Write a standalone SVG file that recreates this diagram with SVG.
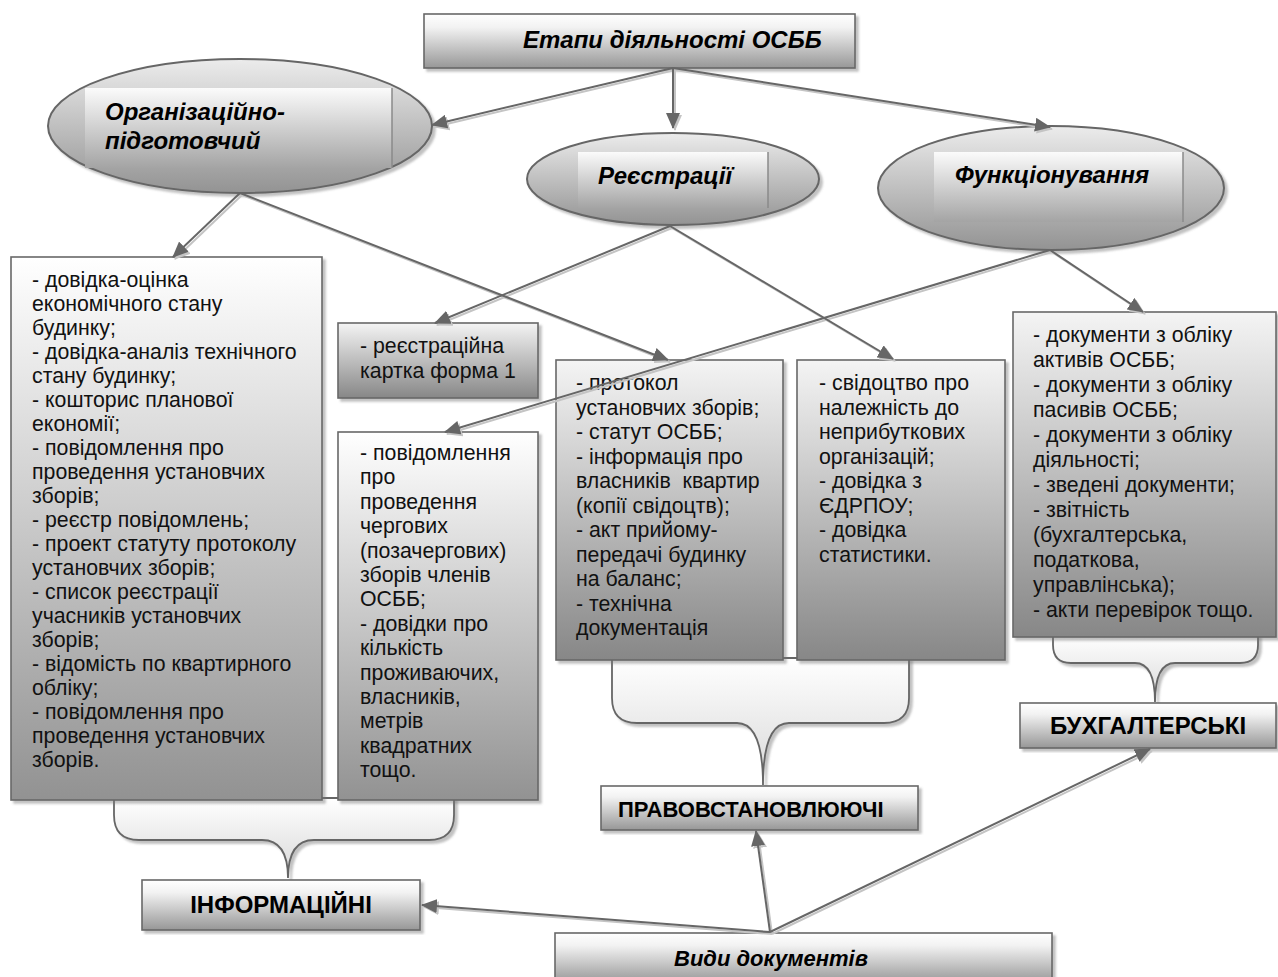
<svg xmlns="http://www.w3.org/2000/svg" width="1278" height="977" viewBox="0 0 1278 977">
<defs>
<linearGradient id="gBox" x1="0" y1="0" x2="0" y2="1"><stop offset="0" stop-color="#ffffff"/><stop offset="1" stop-color="#929292"/></linearGradient>
<linearGradient id="gBoxDark" x1="0" y1="0" x2="0" y2="1"><stop offset="0" stop-color="#f4f4f4"/><stop offset="1" stop-color="#878787"/></linearGradient>
<linearGradient id="gHead" x1="0" y1="0" x2="0" y2="1"><stop offset="0" stop-color="#ffffff"/><stop offset="0.25" stop-color="#f2f2f2"/><stop offset="1" stop-color="#979797"/></linearGradient>
<linearGradient id="gEll" x1="0" y1="0" x2="0" y2="1"><stop offset="0" stop-color="#ececec"/><stop offset="1" stop-color="#939393"/></linearGradient>
<linearGradient id="gIn" x1="0" y1="0" x2="0" y2="1"><stop offset="0" stop-color="#fbfbfb"/><stop offset="1" stop-color="#a4a4a4"/></linearGradient>
<linearGradient id="gBrace" x1="0" y1="0" x2="0" y2="1"><stop offset="0" stop-color="#ffffff"/><stop offset="1" stop-color="#d8d8d8"/></linearGradient>
<filter id="sh" x="-5%" y="-5%" width="115%" height="115%"><feDropShadow dx="3" dy="3" stdDeviation="1" flood-color="#777" flood-opacity="0.45"/></filter>
<marker id="ah" markerUnits="userSpaceOnUse" markerWidth="16" markerHeight="14" refX="15" refY="7" orient="auto"><path d="M0,0 L16,7 L0,14 z" fill="#666"/></marker>
<marker id="ahs" markerUnits="userSpaceOnUse" markerWidth="16" markerHeight="14" refX="15" refY="7" orient="auto"><path d="M0,0 L16,7 L0,14 z" fill="#c4c4c4"/></marker>
<style>
.box{stroke:#686868;stroke-width:1.6;filter:url(#sh)}
.ell{fill:url(#gEll);stroke:#666;stroke-width:2;filter:url(#sh)}
.inr{fill:url(#gIn);stroke:none}
.brace{fill:url(#gBrace);stroke:#666;stroke-width:1.8;filter:url(#sh)}
.t{font-family:"Liberation Sans",Arial,sans-serif;font-size:21.3px;fill:#111}
.h{font-family:"Liberation Sans",Arial,sans-serif;font-size:24px;font-weight:bold;fill:#000}
.hi{font-family:"Liberation Sans",Arial,sans-serif;font-size:24px;font-weight:bold;font-style:italic;fill:#000}
.c{fill:none;stroke:#666;stroke-width:2;marker-end:url(#ah)}
.cs{fill:none;stroke:#c4c4c4;stroke-width:2;marker-end:url(#ahs)}
</style>
</defs>
<rect width="1278" height="977" fill="#ffffff"/>

<g id="braces">
<path class="brace" d="M114,798 L114,815 Q114,840 139,840 L262,840 Q288,840 288,878 Q288,840 314,840 L429,840 Q454,840 454,815 L454,798 Z"/>
<path class="brace" d="M612,658 L612,698 Q612,723 637,723 L737,723 Q763,723 763,785 Q763,723 789,723 L884,723 Q909,723 909,698 L909,658 Z"/>
<path class="brace" d="M1053,635 L1053,645 Q1053,663 1071,663 L1135,663 Q1155,663 1155,702 Q1155,663 1175,663 L1240,663 Q1258,663 1258,645 L1258,635 Z"/>
</g>

<g id="n-top"><rect class="box" x="424" y="14" width="431" height="54" fill="url(#gHead)"/><text class="hi" x="523" y="48">Етапи діяльності ОСББ</text></g>

<g id="n-org"><ellipse class="ell" cx="240" cy="126" rx="192" ry="67"/><rect class="inr" x="85" y="88" width="307" height="80"/><line x1="392" y1="88" x2="392" y2="168" stroke="#8a8a8a" stroke-width="1.5"/><text class="hi" x="105" y="120">Організаційно-</text><text class="hi" x="105" y="149">підготовчий</text></g>

<g id="n-reg"><ellipse class="ell" cx="673" cy="179" rx="146" ry="46"/><rect class="inr" x="578" y="152" width="190" height="56"/><line x1="768" y1="152" x2="768" y2="208" stroke="#8a8a8a" stroke-width="1.5"/><text class="hi" x="598" y="184">Реєстрації</text></g>

<g id="n-fun"><ellipse class="ell" cx="1051" cy="188" rx="173" ry="62"/><rect class="inr" x="934" y="152" width="249" height="70"/><line x1="1183" y1="152" x2="1183" y2="222" stroke="#8a8a8a" stroke-width="1.5"/><text class="hi" x="955" y="183">Функціонування</text></g>

<g id="n-a"><rect class="box" x="11" y="257" width="311" height="543" fill="url(#gBox)"/>
<text class="t" x="32" y="287"><tspan x="32">- довідка-оцінка</tspan><tspan x="32" dy="24">економічного стану</tspan><tspan x="32" dy="24">будинку;</tspan><tspan x="32" dy="24">- довідка-аналіз технічного</tspan><tspan x="32" dy="24">стану будинку;</tspan><tspan x="32" dy="24">- кошторис планової</tspan><tspan x="32" dy="24">економії;</tspan><tspan x="32" dy="24">- повідомлення про</tspan><tspan x="32" dy="24">проведення установчих</tspan><tspan x="32" dy="24">зборів;</tspan><tspan x="32" dy="24">- реєстр повідомлень;</tspan><tspan x="32" dy="24">- проект статуту протоколу</tspan><tspan x="32" dy="24">установчих зборів;</tspan><tspan x="32" dy="24">- список реєстрації</tspan><tspan x="32" dy="24">учасників установчих</tspan><tspan x="32" dy="24">зборів;</tspan><tspan x="32" dy="24">- відомість по квартирного</tspan><tspan x="32" dy="24">обліку;</tspan><tspan x="32" dy="24">- повідомлення про</tspan><tspan x="32" dy="24">проведення установчих</tspan><tspan x="32" dy="24">зборів.</tspan></text></g>

<g id="n-b"><rect class="box" x="338" y="323" width="200" height="75" fill="url(#gBoxDark)"/>
<text class="t" x="360" y="353"><tspan x="360">- реєстраційна</tspan><tspan x="360" dy="25">картка форма 1</tspan></text></g>

<g id="n-c"><rect class="box" x="338" y="432" width="200" height="368" fill="url(#gBox)"/>
<text class="t" x="360" y="460"><tspan x="360">- повідомлення</tspan><tspan x="360" dy="24.4">про</tspan><tspan x="360" dy="24.4">проведення</tspan><tspan x="360" dy="24.4">чергових</tspan><tspan x="360" dy="24.4">(позачергових)</tspan><tspan x="360" dy="24.4">зборів членів</tspan><tspan x="360" dy="24.4">ОСББ;</tspan><tspan x="360" dy="24.4">- довідки про</tspan><tspan x="360" dy="24.4">кількість</tspan><tspan x="360" dy="24.4">проживаючих,</tspan><tspan x="360" dy="24.4">власників,</tspan><tspan x="360" dy="24.4">метрів</tspan><tspan x="360" dy="24.4">квадратних</tspan><tspan x="360" dy="24.4">тощо.</tspan></text></g>

<g id="n-d"><rect class="box" x="556" y="360" width="227" height="300" fill="url(#gBoxDark)"/>
<text class="t" x="576" y="390"><tspan x="576">- протокол</tspan><tspan x="576" dy="24.5">установчих зборів;</tspan><tspan x="576" dy="24.5">- статут ОСББ;</tspan><tspan x="576" dy="24.5">- інформація про</tspan><tspan x="576" dy="24.5">власників&#160; квартир</tspan><tspan x="576" dy="24.5">(копії свідоцтв);</tspan><tspan x="576" dy="24.5">- акт прийому-</tspan><tspan x="576" dy="24.5">передачі будинку</tspan><tspan x="576" dy="24.5">на баланс;</tspan><tspan x="576" dy="24.5">- технічна</tspan><tspan x="576" dy="24.5">документація</tspan></text></g>

<g id="n-e"><rect class="box" x="797" y="360" width="208" height="300" fill="url(#gBoxDark)"/>
<text class="t" x="819" y="390"><tspan x="819">- свідоцтво про</tspan><tspan x="819" dy="24.5">належність до</tspan><tspan x="819" dy="24.5">неприбуткових</tspan><tspan x="819" dy="24.5">організацій;</tspan><tspan x="819" dy="24.5">- довідка з</tspan><tspan x="819" dy="24.5">ЄДРПОУ;</tspan><tspan x="819" dy="24.5">- довідка</tspan><tspan x="819" dy="24.5">статистики.</tspan></text></g>

<g id="n-f"><rect class="box" x="1013" y="312" width="263" height="325" fill="url(#gBoxDark)"/>
<text class="t" x="1033" y="342"><tspan x="1033">- документи з обліку</tspan><tspan x="1033" dy="25">активів ОСББ;</tspan><tspan x="1033" dy="25">- документи з обліку</tspan><tspan x="1033" dy="25">пасивів ОСББ;</tspan><tspan x="1033" dy="25">- документи з обліку</tspan><tspan x="1033" dy="25">діяльності;</tspan><tspan x="1033" dy="25">- зведені документи;</tspan><tspan x="1033" dy="25">- звітність</tspan><tspan x="1033" dy="25">(бухгалтерська,</tspan><tspan x="1033" dy="25">податкова,</tspan><tspan x="1033" dy="25">управлінська);</tspan><tspan x="1033" dy="25">- акти перевірок тощо.</tspan></text></g>

<g id="n-buh"><rect class="box" x="1020" y="703" width="256" height="45" fill="url(#gHead)"/><text class="h" x="1148" y="734" text-anchor="middle">БУХГАЛТЕРСЬКІ</text></g>

<g id="n-prav"><rect class="box" x="601" y="786" width="317" height="44" fill="url(#gHead)"/><text class="h" x="618" y="817" style="font-size:22px">ПРАВОВСТАНОВЛЮЮЧІ</text></g>

<g id="n-inf"><rect class="box" x="142" y="880" width="278" height="50" fill="url(#gHead)"/><text class="h" x="281" y="913" text-anchor="middle">ІНФОРМАЦІЙНІ</text></g>

<g id="n-vyd"><rect class="box" x="555" y="933" width="497" height="50" fill="url(#gHead)"/><text class="hi" x="771" y="966" text-anchor="middle" style="font-size:22px">Види документів</text></g>

<g id="connectors">
<g transform="translate(2,2)">
<path class="cs" d="M673,68 L432,125"/>
<path class="cs" d="M673,68 L673,128"/>
<path class="cs" d="M673,68 L1050,127"/>
<path class="cs" d="M240,193 L173,257"/>
<path class="cs" d="M240,193 L668,360"/>
<path class="cs" d="M670,226 L435,323"/>
<path class="cs" d="M670,226 L893,359"/>
<path class="cs" d="M1050,250 L445,432"/>
<path class="cs" d="M1050,250 L1143,312"/>
<path class="cs" d="M770,932 L422,905"/>
<path class="cs" d="M770,932 L756,831"/>
<path class="cs" d="M770,932 L1150,749"/>
</g>
<path class="c" d="M673,68 L432,125"/>
<path class="c" d="M673,68 L673,128"/>
<path class="c" d="M673,68 L1050,127"/>
<path class="c" d="M240,193 L173,257"/>
<path class="c" d="M240,193 L668,360"/>
<path class="c" d="M670,226 L435,323"/>
<path class="c" d="M670,226 L893,359"/>
<path class="c" d="M1050,250 L445,432"/>
<path class="c" d="M1050,250 L1143,312"/>
<path class="c" d="M770,932 L422,905"/>
<path class="c" d="M770,932 L756,831"/>
<path class="c" d="M770,932 L1150,749"/>
</g>
</svg>
